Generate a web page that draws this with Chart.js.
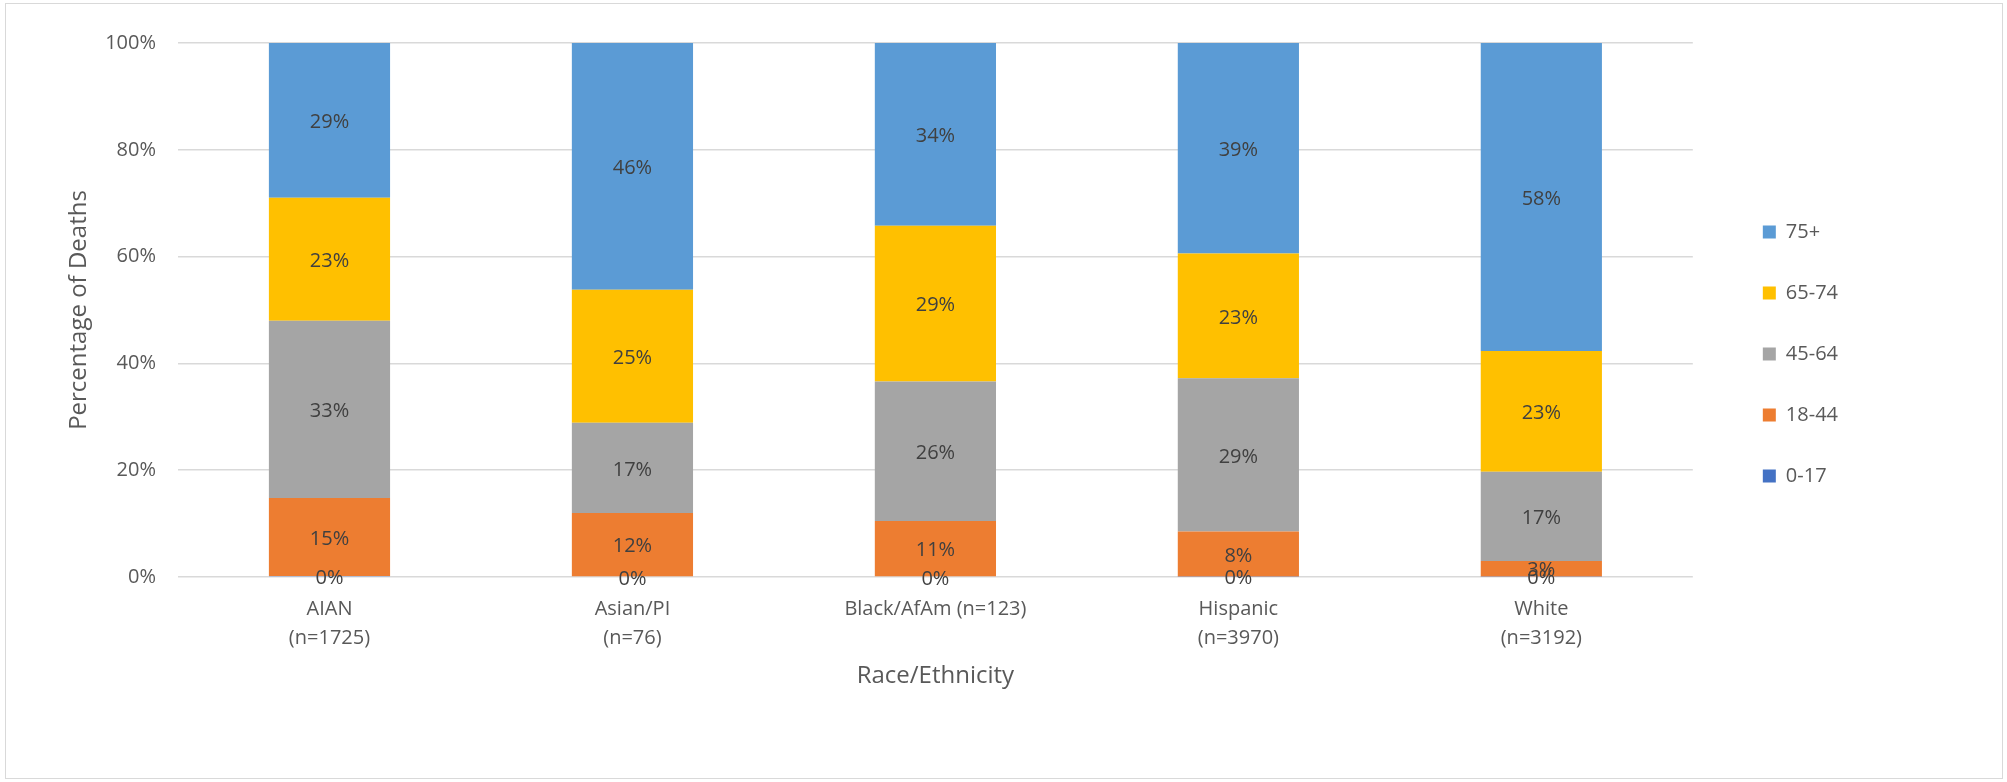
<!DOCTYPE html>
<html>
<head>
<meta charset="utf-8">
<script src="https://cdn.jsdelivr.net/npm/chart.js@4"></script>
<style>
  body { margin: 0; background: #fff; }
  #wrap { position: relative; width: 2007px; height: 782px; }
  #frame { position: absolute; left: 5px; top: 3px; width: 1996px; height: 774px; border: 1px solid #d9d9d9; pointer-events: none; }
</style>
</head>
<body>
<div id="wrap">
  <canvas id="graphique" width="2007" height="782"></canvas>
  <div id="frame"></div>
</div>
<script>
const categories = [
  ["AIAN", "(n=1725)"],
  ["Asian/PI", "(n=76)"],
  "Black/AfAm (n=123)",
  ["Hispanic", "(n=3970)"],
  ["White", "(n=3192)"],
];

// percentage of deaths by age group
const age0_17 = [0.2, 0, 0, 0.1, 0.1];
const age18_44 = [14.6, 12.0, 10.5, 8.4, 2.9];
const age45_64 = [33.2, 16.9, 26.1, 28.7, 16.7];
const age65_74 = [23.0, 24.9, 29.2, 23.4, 22.6];
const age75plus = [29.0, 46.2, 34.2, 39.4, 57.7];

const yTicks = [0, 20, 40, 60, 80, 100];

Chart.defaults.font.family = "'Open Sans', sans-serif";
Chart.defaults.color = "#595959";

// labels au centre de chaque segment
const etiquettes = {
  id: "etiquettes",
  afterDatasetsDraw(chart) {
    const ctx = chart.ctx;
    ctx.save();
    ctx.font = "20px 'Open Sans', sans-serif";
    ctx.fillStyle = "#404040";
    ctx.textAlign = "center";
    ctx.textBaseline = "middle";
    chart.data.datasets.forEach((ds, i) => {
      const meta = chart.getDatasetMeta(i);
      meta.data.forEach((bar, j) => {
        const { x, y, base } = bar.getProps(["x", "y", "base"], true);
        ctx.fillText(Math.round(ds.data[j]) + "%", x, (y + base) / 2 + 2);
      });
    });
    ctx.restore();
  },
};

const ctx = document.getElementById("graphique").getContext("2d");
new Chart(ctx, {
  type: "bar",
  data: {
    labels: categories,
    datasets: [
      { label: "0-17", data: age0_17, backgroundColor: "#4472c4" },
      { label: "18-44", data: age18_44, backgroundColor: "#ed7d31" },
      { label: "45-64", data: age45_64, backgroundColor: "#a5a5a5" },
      { label: "65-74", data: age65_74, backgroundColor: "#ffc000" },
      { label: "75+", data: age75plus, backgroundColor: "#5b9bd5" },
    ],
  },
  options: {
    responsive: false,
    animation: false,
    devicePixelRatio: 1,
    layout: { padding: { left: 10, right: 159, top: 10, bottom: 84 } },
    datasets: { bar: { barPercentage: 0.4, categoryPercentage: 1, borderWidth: 0 } },
    scales: {
      x: {
        stacked: true,
        grid: { display: false, drawTicks: false },
        border: { display: false },
        ticks: { font: { size: 20, lineHeight: 1.45 }, padding: 18, maxRotation: 0, autoSkip: false },
        title: { display: true, text: "Race/Ethnicity", font: { size: 24 }, padding: { top: 10, bottom: 7 } },
        afterFit: (s) => { s.height = 121; },
      },
      y: {
        stacked: true,
        min: 0,
        max: 100,
        grid: { color: "#d9d9d9", lineWidth: 1.5, drawTicks: false },
        border: { display: false },
        afterBuildTicks: (s) => { s.ticks = yTicks.map((v) => ({ value: v })); },
        ticks: { font: { size: 20 }, padding: 22, callback: (v) => v + "%" },
        title: { display: true, text: "Percentage of Deaths", font: { size: 24 }, padding: { top: 55, bottom: 10 } },
        afterFit: (s) => { s.width = 168; },
      },
      y2: {
        position: "right",
        grid: { display: false, drawTicks: false },
        border: { display: false },
        ticks: { display: false },
        afterFit: (s) => { s.width = 29; },
      },
    },
    plugins: {
      title: { display: true, text: " ", fullSize: false, font: { size: 10 }, padding: { top: 0, bottom: 21 } },
      tooltip: { enabled: false },
      legend: {
        position: "right",
        reverse: true,
        labels: { boxWidth: 13, boxHeight: 13, padding: 41, font: { size: 20 }, color: "#595959" },
      },
    },
  },
  plugins: [etiquettes],
});
</script>
</body>
</html>
